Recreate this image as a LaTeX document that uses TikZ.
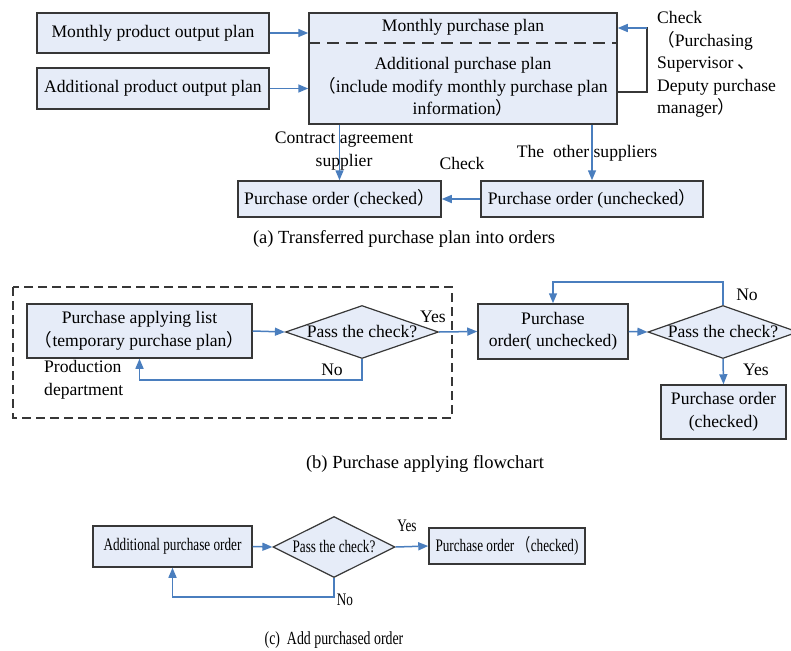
\documentclass[tikz,border=0pt]{standalone}
\usepackage{fontspec}
\setmainfont{Liberation Serif}
\newfontfamily\cjk{Noto Sans CJK SC}
\newfontfamily\cfont[FakeStretch=0.75]{Liberation Serif}
\newfontfamily\ccjk[FakeStretch=0.75]{Noto Sans CJK SC}
\usetikzlibrary{arrows.meta,shapes.geometric}
\definecolor{boxfill}{RGB}{230,236,248}
\definecolor{boxline}{RGB}{55,55,55}
\definecolor{arrblue}{RGB}{74,126,190}
\newcommand{\lp}{{\cjk （}}
\newcommand{\rp}{{\cjk ）}}
\newcommand{\dun}{{\cjk 、}}
\begin{document}
\begin{tikzpicture}[x=1pt,y=-1pt,
  every node/.style={font=\fontsize{17.6}{22.5}\selectfont},
  capfont/.style={font=\fontsize{18.5}{22.5}\selectfont},
  cfnt/.style={font=\cfont\fontsize{17.6}{22.5}\selectfont},
  capc/.style={font=\cfont\fontsize{18.5}{22.5}\selectfont},
  box/.style={draw=boxline,fill=boxfill,line width=1.5pt,inner sep=0pt,align=center},
  dia/.style={diamond,draw=boxline,fill=boxfill,line width=1.2pt,inner sep=0pt,aspect=2.5},
  arr/.style={draw=arrblue,line width=1.5pt,-{Triangle[length=10pt,width=8pt]}},
  lbl/.style={inner sep=0pt,align=center}]
\useasboundingbox (0,0) rectangle (791,650);
% ---------- (a) ----------
\node[box,minimum width=232pt,minimum height=40pt] (a1) at (153,33) {Monthly product output plan};
\node[box,minimum width=232pt,minimum height=41pt] (a2) at (153,88.5) {Additional product output plan};
\node[box,minimum width=308pt,minimum height=111pt] (big) at (463,68.5) {};
\draw[boxline,line width=1.7pt,dash pattern=on 12pt off 7pt] (big.west |- 0,43) -- (big.east |- 0,43);
\node[lbl] (bigt1) at (463,27) {Monthly purchase plan};
\node[lbl] (bigt2) at (463,87) {Additional purchase plan\\\lp include modify monthly purchase plan\\information\rp};
\node[box,minimum width=203pt,minimum height=36pt] (pc) at (339.5,199) {Purchase order (checked\rp};
\node[box,minimum width=222pt,minimum height=36pt] (pu) at (592,199) {Purchase order (unchecked\rp};
\draw[arr] (a1.east) -- (a1.east -| big.west);
\draw[arr] (a2.east) -- (a2.east -| big.west);
\draw[arr] (pc.north |- big.south) -- (pc.north);
\draw[arr] (pu.north |- big.south) -- (pu.north);
\draw[arr] (pu.west) -- (pc.east);
\coordinate (chk1) at (647,92);
\coordinate (chk2) at (647,28);
\draw[boxline,line width=1.4pt] (big.east |- chk1) -- (chk1) -- (chk2) -- ++(-4,0);
\draw[arr] (chk2) -- (big.east |- chk2);
\node[lbl,align=left,anchor=west] (chklbl) at (657,64.5) {Check\\\lp Purchasing\\Supervisor \dun\\Deputy purchase\\manager\rp};
\node[lbl] (cal) at (344,151) {Contract agreement\\supplier};
\node[lbl] (chkl) at (462,163) {Check};
\node[lbl] (oth) at (587,153) {The\ \ other suppliers};
\node[lbl,capfont] (capa) at (404,239) {(a) Transferred purchase plan into orders};
% ---------- (b) ----------
\draw[boxline,line width=1.3pt,dash pattern=on 9pt off 5pt] (13,287) rectangle (452,418);
\node[box,minimum width=225pt,minimum height=54pt] (pal) at (139.5,331) {Purchase applying list\\\lp temporary purchase plan\rp};
\node[dia,minimum width=153pt,minimum height=53pt] (d1) at (362,332) {};
\node[lbl] (d1t) at (d1) {Pass the check?};
\node[box,minimum width=150pt,minimum height=55pt] (po) at (553,331.5) {Purchase\\order( unchecked)};
\node[dia,minimum width=150pt,minimum height=53pt] (d2) at (723,332) {};
\node[lbl] (d2t) at (d2) {Pass the check?};
\node[box,minimum width=125pt,minimum height=54pt] (poc) at (723.5,412) {Purchase order\\(checked)};
\draw[arr] (pal.east) -- (d1.west);
\draw[arr] (d1.east) -- (po.west);
\draw[arr] (po.east) -- (d2.west);
\draw[arr] (d2.south) -- (poc.north);
\draw[arr] (d1.south) -- (362,380) -| (pal.south);
\draw[arr] (d2.north) -- (723,282) -| (po.north);
\node[lbl] (y1) at (433,317) {Yes};
\node[lbl] (n1) at (332,370) {No};
\node[lbl,align=left,anchor=west] (prod) at (44,380) {Production\\department};
\node[lbl] (n2) at (747,295) {No};
\node[lbl] (y2) at (756,370) {Yes};
\node[lbl,capfont] (capb) at (425,464) {(b) Purchase applying flowchart};
% ---------- (c) ----------
\node[box,cfnt,minimum width=159pt,minimum height=41pt] (apo) at (172.5,546.5) {Additional purchase order};
\node[dia,minimum width=122pt,minimum height=61pt] (d3) at (334,547) {};
\node[lbl,cfnt] (d3t) at (d3) {Pass the check?};
\node[box,cfnt,minimum width=156pt,minimum height=36pt] (poc2) at (507,546) {Purchase order {\ccjk （}checked)};
\draw[arr] (apo.east) -- (d3.west);
\draw[arr] (d3.east) -- (poc2.west);
\draw[arr] (d3.south) -- (334,597) -| (apo.south);
\node[lbl,cfnt] (y3) at (407,526) {Yes};
\node[lbl,cfnt] (n3) at (345,600) {No};
\node[lbl,capc] (capcap) at (334,640) {(c)\ \ Add purchased order};
\end{tikzpicture}
\end{document}
